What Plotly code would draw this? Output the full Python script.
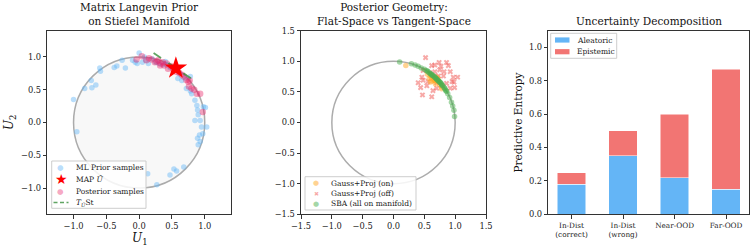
import plotly.graph_objects as go

# ---------------- data ----------------
prior_u = [-1.00, -0.95, -0.83, -0.73, -0.72, -0.66, -0.60, -0.59, -0.38, -0.34, -0.26, -0.21,
           -0.10, -0.06, 0.00, -0.03, 0.05, 0.10, 0.14, 0.20, 0.25, 0.30, 0.36, 0.42, 0.47,
           0.59, 0.65, 0.70, 0.78, 0.72, 0.78, 0.80, 0.85, 0.88, 0.98, 1.01, 0.89, 0.90, 0.85,
           0.93, 0.95, 1.03, 0.97, 0.92, 0.89, 0.93, 0.90, 0.47, 0.53, 0.57, 0.68, 0.13, 0.27,
           0.62, 0.40, 0.08]
prior_v = [0.35, -0.14, 0.52, 0.64, 0.53, 0.57, 0.83, 0.78, 0.84, 0.86, 0.95, 0.83,
           0.95, 0.92, 1.06, 0.90, 0.92, 0.95, 0.90, 0.97, 0.92, 0.90, 0.88, 0.88, 0.84,
           0.67, 0.64, 0.68, 0.70, 0.52, 0.48, 0.44, 0.34, 0.26, 0.24, 0.23, 0.19, 0.12, 0.03,
           0.03, -0.07, -0.07, -0.17, -0.19, -0.24, -0.29, -0.34, -0.80, -0.71, -0.74, -0.68, -0.78, -0.95,
           0.74, 0.93, 1.00]

post_u = [-0.04, 0.04, 0.11, 0.19, 0.24, 0.32, 0.36, 0.38, 0.44, 0.52, 0.57, 0.65, 0.72, 0.75,
          0.76, 0.80, 0.88, 0.93, 0.97, 0.77, 0.29, 0.42, 0.15, 0.27, 0.33, 0.48, 0.61, 0.68, 0.84]
post_v = [0.96, 1.01, 0.95, 0.96, 0.92, 0.87, 0.92, 0.87, 0.82, 0.81, 0.77, 0.73, 0.65, 0.62,
          0.55, 0.52, 0.44, 0.44, 0.16, 0.64, 0.95, 0.90, 0.98, 0.93, 0.90, 0.86, 0.76, 0.70, 0.50]

map_u = [0.56]
map_v = [0.83]

tangent_u = [0.22, 0.90]
tangent_v = [1.06, 0.60]

on_u = [0.20, 0.55, 0.60, 0.62, 0.65, 0.66, 0.68, 0.70, 0.72, 0.75, 0.78, 0.78, 0.63, 0.58, 0.72, 0.60, 0.68, 0.67]
on_v = [0.93, 0.79, 0.76, 0.74, 0.70, 0.72, 0.68, 0.74, 0.68, 0.62, 0.58, 0.55, 0.68, 0.72, 0.72, 0.66, 0.63, 0.69]

off_u = [0.52, 0.62, 0.67, 0.74, 0.77, 0.86, 0.89, 0.82, 0.92, 0.97, 1.04, 0.95, 0.98, 0.99, 0.86,
         0.78, 0.73, 0.65, 0.59, 0.48, 0.46, 0.48, 0.40, 0.44, 0.54, 0.64, 0.47, 0.62, 0.70, 0.81,
         0.56, 0.70, 0.92, 0.75, 0.67]
off_v = [1.06, 0.93, 0.94, 0.98, 0.92, 0.98, 0.93, 0.83, 0.83, 0.74, 0.74, 0.67, 0.66, 0.57, 0.64,
         0.61, 0.76, 0.75, 0.81, 0.85, 0.74, 0.69, 0.65, 0.57, 0.60, 0.52, 0.45, 0.42, 0.56, 0.76,
         0.67, 0.65, 0.56, 0.86, 0.83]

sba_u = [0.10, 0.29, 0.35, 0.40, 0.45, 0.50, 0.53, 0.56, 0.58, 0.60, 0.62, 0.64, 0.66, 0.68, 0.70,
         0.72, 0.74, 0.76, 0.78, 0.80, 0.82, 0.84, 0.86, 0.88, 0.91, 0.94, 0.96, 0.98, 0.99,
         0.55, 0.61, 0.63, 0.67, 0.69, 0.71, 0.73, 0.75, 0.77, 0.79, 0.83, 0.85]
sba_v = [0.99, 0.96, 0.94, 0.92, 0.89, 0.87, 0.85, 0.83, 0.81, 0.80, 0.78, 0.77, 0.75, 0.73, 0.71,
         0.69, 0.67, 0.65, 0.62, 0.60, 0.57, 0.54, 0.51, 0.47, 0.41, 0.33, 0.27, 0.20, 0.10,
         0.84, 0.79, 0.77, 0.74, 0.72, 0.70, 0.68, 0.66, 0.64, 0.61, 0.56, 0.52]

categories = ["In-Dist<br>(correct)", "In-Dist<br>(wrong)", "Near-OOD", "Far-OOD"]
aleatoric = [0.18, 0.35, 0.22, 0.15]
epistemic = [0.07, 0.15, 0.38, 0.72]

legend1_labels = ["ML Prior samples", "MAP <i>Û</i>", "Posterior samples", "<i>T</i><sub><i>Û</i></sub>St"]
legend2_labels = ["Gauss+Proj (on)", "Gauss+Proj (off)", "SBA (all on manifold)"]
legend3_labels = ["Aleatoric", "Epistemic"]

# ---------------- styling ----------------
W, H = 753, 250
FONT = "DejaVu Serif"
C_PRIOR = "rgba(100,181,246,0.45)"
C_POST = "rgba(233,30,99,0.40)"
C_ON = "rgba(255,167,38,0.5)"
C_OFF = "rgba(239,83,80,0.5)"
C_SBA = "rgba(76,175,80,0.5)"
C_TAN = "rgba(56,142,60,0.8)"
C_ALEA = "#64B5F6"
C_EPI = "rgba(239,83,80,0.8)"
TICK = 8.3
LEG = 7.5


def px(x):
    return x / W


def py(y):
    return 1 - y / H


fig = go.Figure()

# Panel 1
fig.add_trace(go.Scatter(x=prior_u, y=prior_v, mode="markers", name="ML Prior samples",
                         marker=dict(size=5.5, color=C_PRIOR), xaxis="x", yaxis="y", showlegend=False))
fig.add_trace(go.Scatter(x=post_u, y=post_v, mode="markers", name="Posterior samples",
                         marker=dict(size=6.5, color=C_POST), xaxis="x", yaxis="y", showlegend=False))
fig.add_trace(go.Scatter(x=tangent_u, y=tangent_v, mode="lines", name="T_Û St",
                         line=dict(color=C_TAN, width=1.8, dash="dash"),
                         xaxis="x", yaxis="y", showlegend=False))
fig.add_trace(go.Scatter(x=map_u, y=map_v, mode="markers", name="MAP Û",
                         marker=dict(size=17, color="red", symbol="star"),
                         xaxis="x", yaxis="y", showlegend=False))

# Panel 2
fig.add_trace(go.Scatter(x=off_u, y=off_v, mode="markers", name="Gauss+Proj (off)",
                         marker=dict(size=5, color=C_OFF, symbol="x"), xaxis="x2", yaxis="y2", showlegend=False))
fig.add_trace(go.Scatter(x=on_u, y=on_v, mode="markers", name="Gauss+Proj (on)",
                         marker=dict(size=5.5, color=C_ON), xaxis="x2", yaxis="y2", showlegend=False))
fig.add_trace(go.Scatter(x=sba_u, y=sba_v, mode="markers", name="SBA (all on manifold)",
                         marker=dict(size=5.5, color=C_SBA), xaxis="x2", yaxis="y2", showlegend=False))

# Panel 3
fig.add_trace(go.Bar(x=categories, y=aleatoric, name="Aleatoric", width=0.55,
                     marker=dict(color=C_ALEA, line=dict(color="white", width=0.5)),
                     xaxis="x3", yaxis="y3", showlegend=False))
fig.add_trace(go.Bar(x=categories, y=epistemic, name="Epistemic", width=0.55,
                     marker=dict(color=C_EPI, line=dict(color="white", width=0.5)),
                     xaxis="x3", yaxis="y3", showlegend=False))

ydom = [py(214.3), py(30.7)]
axis_common = dict(showgrid=False, zeroline=False, showline=True, mirror=True,
                   linecolor="#333", linewidth=1, ticks="outside", ticklen=3.5,
                   tickwidth=0.8, tickcolor="#333", tickfont=dict(family=FONT, size=TICK, color="#222"))

fig.update_layout(
    width=W, height=H, autosize=False, margin=dict(l=0, r=0, t=0, b=0, autoexpand=False),
    paper_bgcolor="white", plot_bgcolor="white", barmode="stack", showlegend=False,
    font=dict(family=FONT, color="#222"),
    xaxis=dict(domain=[px(47.3), px(231)], range=[-1.4, 1.4], tickvals=[-1, -0.5, 0, 0.5, 1],
               tickformat=".1f", anchor="y", **axis_common),
    yaxis=dict(domain=ydom, range=[-1.4, 1.4], tickvals=[-1, -0.5, 0, 0.5, 1],
               tickformat=".1f", anchor="x", **axis_common),
    xaxis2=dict(domain=[px(301), px(486)], range=[-1.5, 1.5], dtick=0.5,
                tickformat=".1f", anchor="y2", **axis_common),
    yaxis2=dict(domain=ydom, range=[-1.5, 1.5], dtick=0.5,
                tickformat=".1f", anchor="x2", **axis_common),
    xaxis3=dict(domain=[px(548.3), px(749.3)], range=[-0.45, 3.45], anchor="y3",
                **{**axis_common, "tickfont": dict(family=FONT, size=7.3, color="#222")}),
    yaxis3=dict(domain=ydom, range=[0, 1.1], tickvals=[0, 0.2, 0.4, 0.6, 0.8, 1.0],
                tickformat=".1f", anchor="x3", **axis_common),
)

# unit circles
fig.add_shape(type="circle", xref="x", yref="y", x0=-1, y0=-1, x1=1, y1=1,
              line=dict(color="rgba(128,128,128,0.65)", width=1.5),
              fillcolor="rgba(200,200,200,0.13)", layer="below")
fig.add_shape(type="circle", xref="x2", yref="y2", x0=-1, y0=-1, x1=1, y1=1,
              line=dict(color="rgba(128,128,128,0.65)", width=1.5), layer="below")

# titles
tfont = dict(family=FONT, size=10.5, color="#111")
fig.add_annotation(text="Matrix Langevin Prior<br>on Stiefel Manifold", x=px(139.2), y=py(13.7),
                   xref="paper", yref="paper", xanchor="center", yanchor="middle",
                   showarrow=False, font=tfont)
fig.add_annotation(text="Posterior Geometry:<br>Flat-Space vs Tangent-Space", x=px(393.5), y=py(13.7),
                   xref="paper", yref="paper", xanchor="center", yanchor="middle",
                   showarrow=False, font=tfont)
fig.add_annotation(text="Uncertainty Decomposition", x=px(648.8), y=py(20.7),
                   xref="paper", yref="paper", xanchor="center", yanchor="middle",
                   showarrow=False, font=tfont)

# axis labels
lfont = dict(family=FONT, size=12, color="#111")
fig.add_annotation(text="<i>U</i><sub>1</sub>", x=px(139.2), y=py(239), xref="paper", yref="paper",
                   xanchor="center", yanchor="middle", showarrow=False, font=lfont)
fig.add_annotation(text="<i>U</i><sub>2</sub>", x=px(9.5), y=py(122.5), xref="paper", yref="paper",
                   xanchor="center", yanchor="middle", showarrow=False, font=lfont, textangle=-90)
fig.add_annotation(text="Predictive Entropy", x=px(517), y=py(122.5), xref="paper", yref="paper",
                   xanchor="center", yanchor="middle", showarrow=False,
                   font=dict(family=FONT, size=10.5, color="#111"), textangle=-90)


# legends: frame + handle + label for each entry
def legend_frame(box):
    x0, y0, x1, y1 = box
    fig.add_shape(type="rect", xref="paper", yref="paper", x0=px(x0), x1=px(x1), y0=py(y1), y1=py(y0),
                  line=dict(color="rgba(200,200,200,0.9)", width=1),
                  fillcolor="rgba(255,255,255,0.85)", layer="above")


def legend_label(text_x, yy, lab):
    fig.add_annotation(text=lab, x=px(text_x), y=py(yy), xref="paper", yref="paper",
                       xanchor="left", yanchor="middle", showarrow=False,
                       font=dict(family=FONT, size=LEG, color="#222"))


def legend_glyph(gx, yy, g, col, size):
    fig.add_annotation(text=g, x=px(gx), y=py(yy), xref="paper", yref="paper",
                       xanchor="center", yanchor="middle", showarrow=False,
                       font=dict(family=FONT, size=size, color=col))


# legend 1
legend_frame((51.7, 161, 146, 208.3))
l1_y = [167.0, 179.0, 191.0, 202.5]
legend_glyph(60.7, l1_y[0], "●", C_PRIOR, 7.5)
legend_glyph(61.5, l1_y[1], "★", "red", 14)
legend_glyph(60.7, l1_y[2], "●", C_POST, 7.5)
fig.add_shape(type="line", xref="paper", yref="paper", x0=px(53.5), x1=px(68.5),
              y0=py(l1_y[3]), y1=py(l1_y[3]), line=dict(color=C_TAN, width=1.6, dash="4px,2.5px"),
              layer="above")
for yy, lab in zip(l1_y, legend1_labels):
    legend_label(74, yy, lab)

# legend 2
legend_frame((305, 176.7, 416, 210))
l2_y = [183.3, 193.5, 203.7]
legend_glyph(316, l2_y[0], "●", C_ON, 7)
legend_glyph(316, l2_y[1], "✖", C_OFF, 6)
legend_glyph(316, l2_y[2], "●", C_SBA, 7)
for yy, lab in zip(l2_y, legend2_labels):
    legend_label(329, yy, lab)

# legend 3
legend_frame((550.7, 33.3, 616.7, 58.3))
l3_y = [40.0, 51.7]
for yy, col in zip(l3_y, [C_ALEA, C_EPI]):
    fig.add_shape(type="rect", xref="paper", yref="paper", x0=px(555), x1=px(569.5),
                  y0=py(yy + 2.6), y1=py(yy - 2.6), line=dict(width=0), fillcolor=col, layer="above")
for yy, lab in zip(l3_y, legend3_labels):
    legend_label(575, yy, lab)

fig.write_html(
    "out.html",
    config={"responsive": False, "displayModeBar": False},
    post_script=("document.body.style.margin='0px';document.body.style.padding='0px';"
                 "Plotly.relayout(document.getElementById('{plot_id}'), {width: 753, height: 250});"),
)
